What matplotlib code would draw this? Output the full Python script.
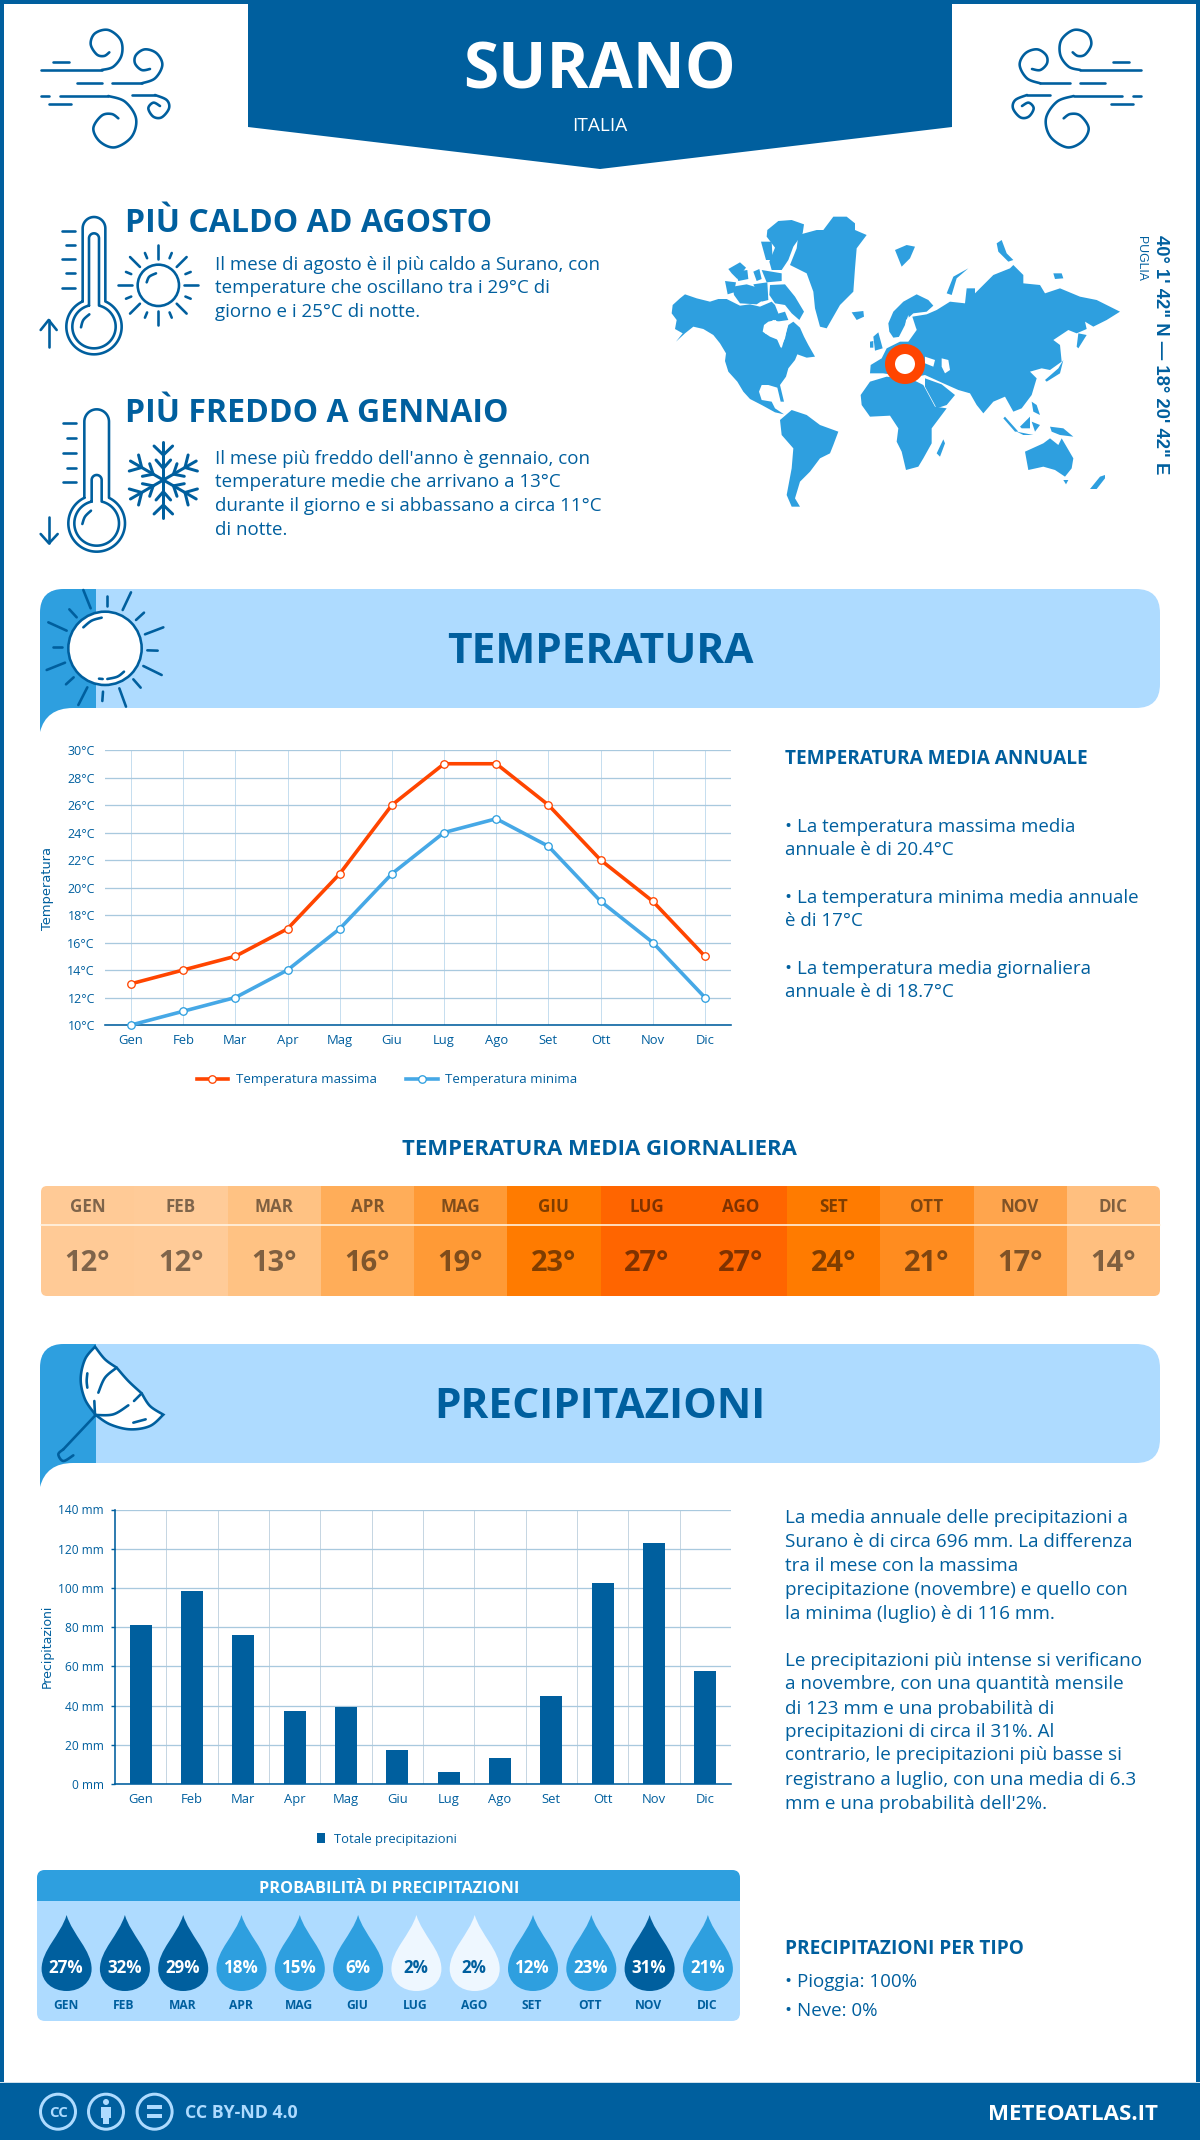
import numpy as np
import matplotlib
matplotlib.use('Agg')
import matplotlib.pyplot as plt
from matplotlib.patches import Circle, FancyBboxPatch, PathPatch, Polygon, Rectangle
from matplotlib.path import Path

plt.rcParams['font.family'] = ['Open Sans', 'DejaVu Sans']

W, H = 1200, 2140
BLUE = '#005f9e'
MID = '#2e9fdf'
LIGHT = '#aedbff'
ORANGE = '#ff4500'

mesi = ['Gen', 'Feb', 'Mar', 'Apr', 'Mag', 'Giu', 'Lug', 'Ago', 'Set', 'Ott', 'Nov', 'Dic']
mesi_up = ['GEN', 'FEB', 'MAR', 'APR', 'MAG', 'GIU', 'LUG', 'AGO', 'SET', 'OTT', 'NOV', 'DIC']
temp_max = [13, 14, 15, 17, 21, 26, 29, 29, 26, 22, 19, 15]
temp_min = [10, 11, 12, 14, 17, 21, 24, 25, 23, 19, 16, 12]
temp_media = [12, 12, 13, 16, 19, 23, 27, 27, 24, 21, 17, 14]
temp_colori = ['#ffca96', '#ffcb98', '#ffc283', '#ffad59', '#ff9a36', '#ff7b00',
               '#ff6500', '#ff6500', '#ff7b00', '#ff8c1f', '#ffa54d', '#ffbf7f']
pioggia = [81, 98.4, 76, 37.4, 39.3, 17.4, 6.3, 13.3, 44.9, 102.5, 123, 57.7]
probabilita = [27, 32, 29, 18, 15, 6, 2, 2, 12, 23, 31, 21]

testo_caldo = ['Il mese di agosto è il più caldo a Surano, con',
               'temperature che oscillano tra i 29°C di',
               'giorno e i 25°C di notte.']
testo_freddo = ["Il mese più freddo dell'anno è gennaio, con",
                'temperature medie che arrivano a 13°C',
                'durante il giorno e si abbassano a circa 11°C',
                'di notte.']
testo_temp = ['• La temperatura massima media', 'annuale è di 20.4°C',
              '• La temperatura minima media annuale', 'è di 17°C',
              '• La temperatura media giornaliera', 'annuale è di 18.7°C']
testo_prec = ['La media annuale delle precipitazioni a',
              'Surano è di circa 696 mm. La differenza',
              'tra il mese con la massima',
              'precipitazione (novembre) e quello con',
              'la minima (luglio) è di 116 mm.',
              'Le precipitazioni più intense si verificano',
              'a novembre, con una quantità mensile',
              'di 123 mm e una probabilità di',
              'precipitazioni di circa il 31%. Al',
              'contrario, le precipitazioni più basse si',
              'registrano a luglio, con una media di 6.3',
              "mm e una probabilità dell'2%."]

# outlines of the map, in pixels of a 3x crop
mappa = [
    [(38,300),(60,280),(75,268),(110,280),(150,290),(175,282),(200,282),(240,302),(270,298),(300,305),(335,290),(345,300),(355,325),(348,345),(325,350),(312,360),(308,380),(330,395),(355,405),(365,430),(372,405),(385,360),(400,350),(420,368),(432,395),(445,420),(465,455),(440,458),(412,448),(405,465),(385,490),(378,515),(360,540),(372,590),(362,590),(352,548),(325,540),(305,540),(297,560),(305,585),(335,590),(345,610),(372,628),(345,622),(305,600),(270,582),(250,560),(232,530),(205,500),(195,468),(198,445),(180,415),(160,390),(130,372),(100,365),(75,385),(48,410),(68,385),(45,372),(50,345),(35,325)],
    [(360,645),(395,615),(440,630),(480,660),(535,680),(520,720),(510,745),(480,760),(450,800),(420,830),(405,880),(420,905),(395,905),(380,870),(395,790),(400,730),(365,690)],
    [(415,90),(470,75),(490,75),(520,35),(560,35),(585,55),(585,75),(620,90),(590,130),(585,190),(580,260),(540,300),(500,370),(480,365),(465,310),(460,260),(440,205),(390,180),(410,130)],
    [(322,75),(355,48),(395,45),(432,58),(428,85),(400,125),(385,165),(365,195),(335,195),(328,170),(345,128),(320,95)],
    [(330,240),(375,238),(405,275),(432,320),(418,345),(395,325),(375,300),(345,295),(328,270)],
    [(195,228),(228,232),(222,262),(203,268)],
    [(205,192),(240,172),(258,188),(232,222),(215,205)],
    [(225,200),(262,195),(265,222),(235,228)],
    [(218,245),(260,238),(300,250),(310,285),(290,298),(240,295),(222,270)],
    [(280,200),(298,192),(305,222),(290,228)],
    [(305,195),(365,205),(365,228),(320,232)],
    [(280,238),(322,232),(325,285),(305,290)],
    [(303,110),(335,110),(338,165),(318,165)],
    [(340,330),(375,320),(385,345),(350,350)],
    [(575,322),(610,318),(612,335),(590,345)],
    [(705,135),(740,120),(765,125),(750,160),(725,185)],
    [(860,265),(880,215),(925,190),(890,220),(875,270)],
    [(1010,115),(1025,105),(1040,145),(1060,165),(1045,170),(1015,140)],
    [(1180,205),(1205,205),(1210,220),(1185,222)],
    [(685,355),(700,320),(730,290),(770,268),(805,285),(820,302),(800,320),(760,325),(738,345),(735,370),(722,395),(700,398),(688,380)],
    [(770,375),(757,335),(800,328),(830,315),(870,290),(915,295),(920,250),(945,250),(945,265),(970,240),(1000,210),(1050,190),(1060,180),(1090,210),(1090,235),(1140,240),(1155,265),(1200,250),(1260,275),(1310,285),(1380,320),(1340,345),(1300,365),(1275,350),(1280,372),(1250,385),(1225,375),(1180,405),(1200,420),(1205,470),(1170,495),(1145,490),(1110,500),(1130,520),(1115,570),(1085,610),(1060,620),(1035,575),(1000,590),(970,625),(950,600),(930,565),(895,555),(850,535),(795,510),(770,515),(740,505),(700,510),(670,505),(630,505),(632,480),(665,460),(680,430),(720,410),(745,410)],
    [(795,520),(845,538),(885,570),(860,600),(830,610),(795,545)],
    [(602,570),(630,530),(680,515),(760,525),(790,540),(825,605),(860,610),(815,670),(815,715),(790,760),(775,785),(738,795),(725,740),(710,710),(715,670),(690,632),(630,635),(605,600)],
    [(830,745),(850,703),(855,715),(840,755)],
    [(640,395),(655,382),(668,430),(645,437)],
    [(630,410),(640,408),(640,428),(630,428)],
    [(1155,525),(1195,490),(1210,465),(1200,505),(1160,530)],
    [(1250,425),(1255,385),(1280,390),(1255,430)],
    [(1080,665),(1110,635),(1110,670),(1085,670)],
    [(1035,635),(1075,680),(1065,680),(1030,640)],
    [(1070,680),(1120,690),(1090,690)],
    [(1115,590),(1130,600),(1140,630),(1120,620)],
    [(1170,665),(1210,670),(1240,695),(1200,690),(1175,680)],
    [(1115,650),(1140,660),(1125,680)],
    [(1095,740),(1150,715),(1170,700),(1195,720),(1205,700),(1240,760),(1235,790),(1215,815),(1185,795),(1150,785),(1105,795)],
    [(1210,825),(1225,825),(1218,838)],
    [(1290,852),(1320,815),(1335,810),(1335,820),(1310,852)],
]
mappa_buchi = [
    [(312,365),(340,345),(370,355),(385,350),(375,400),(362,428),(350,400),(315,385)],
    [(845,460),(865,465),(870,495),(855,505),(845,485)],
    [(795,455),(825,465),(820,485),(795,475)],
    [(735,395),(770,372),(752,365),(745,330),(735,360),(712,405)],
]


def px(v):
    return v * 0.72


fig = plt.figure(figsize=(W / 100, H / 100), dpi=100, facecolor='white')
bg = fig.add_axes([0, 0, 1, 1])
bg.set_xlim(0, W)
bg.set_ylim(H, 0)
bg.axis('off')


def T(x, y, s, size, color=BLUE, weight='normal', ha='left', **kw):
    # y is the middle of the capitals
    return bg.text(x, y + 0.357 * size, s, fontsize=px(size), color=color, weight=weight,
                   ha=ha, va='baseline', zorder=10, **kw)


def L(xs, ys, lw=2.6, color=BLUE, z=6):
    bg.plot(xs, ys, color=color, lw=px(lw), solid_capstyle='round', solid_joinstyle='round', zorder=z)


def smooth(pts, n=12):
    # catmull-rom through the points
    p = np.array(pts, dtype=float)
    p = np.vstack([p[0], p, p[-1]])
    out = []
    for i in range(1, len(p) - 2):
        for t in np.linspace(0, 1, n, endpoint=False):
            a = 2 * p[i] + (p[i + 1] - p[i - 1]) * t
            b = (2 * p[i - 1] - 5 * p[i] + 4 * p[i + 1] - p[i + 2]) * t ** 2
            c = (-p[i - 1] + 3 * p[i] - 3 * p[i + 1] + p[i + 2]) * t ** 3
            out.append(0.5 * (a + b + c))
    out.append(p[-2])
    return np.array(out)


def crop(pts, ox, oy, mirror=None):
    p = np.array(pts, dtype=float) / 3 + [ox, oy]
    if mirror is not None:
        p[:, 0] = mirror - p[:, 0]
    return p


def draw_crop(pts, ox, oy, curved=False, mirror=None, lw=2.6):
    p = crop(pts, ox, oy, mirror)
    if curved:
        p = smooth(p)
    L(p[:, 0], p[:, 1], lw=lw)


def wind(mirror=None):
    ox, oy = 30, 20
    for seg in [[(70,125),(118,125)], [(32,150),(215,150)], [(140,190),(215,190)], [(245,190),(335,190)],
                [(32,228),(58,228)], [(90,228),(235,228)], [(57,252),(122,252)], [(305,225),(375,225)]]:
        draw_crop(seg, ox, oy, mirror=mirror)
    for seg in [[(215,150),(250,140),(275,105),(272,60),(235,30),(195,40),(182,72),(200,103),(222,108),(238,97)],
                [(335,190),(375,175),(397,135),(380,100),(345,88),(318,105),(315,130),(335,150),(360,147)],
                [(235,228),(285,245),(318,295),(305,350),(255,382),(210,365),(190,325),(215,287),(245,282),(265,295)],
                [(375,225),(410,240),(417,265),(395,292),(370,290),(355,265),(370,248),(390,258)]]:
        draw_crop(seg, ox, oy, curved=True, mirror=mirror)


def thermo(ox, oy, cx, tw, ttop, cy, r, itw, itop, ticks, tx, arrow, hl):
    # tube + bulb, sizes in crop pixels
    g = np.degrees(np.arcsin(tw / r))
    t = np.radians(np.linspace(-90 + g, 270 - g, 90))
    a = np.radians(np.linspace(180, 360, 30))
    xs = np.r_[cx - tw, cx + tw * np.cos(a), cx + r * np.cos(t), cx - tw]
    ys = np.r_[cy - r * np.cos(np.radians(g)), ttop + tw * np.sin(a) + tw, cy + r * np.sin(t), cy - r * np.cos(np.radians(g))]
    draw_crop(np.c_[xs, ys], ox, oy)
    r2 = r - 18
    g = np.degrees(np.arcsin(itw / r2))
    t = np.radians(np.linspace(-90 + g, 270 - g, 90))
    xs = np.r_[cx - itw, cx + itw * np.cos(a), cx + r2 * np.cos(t), cx - itw]
    ys = np.r_[cy - r2 * np.cos(np.radians(g)), itop + itw * np.sin(a) + itw, cy + r2 * np.sin(t), cy - r2 * np.cos(np.radians(g))]
    draw_crop(np.c_[xs, ys], ox, oy)
    draw_crop(hl, ox, oy, curved=True)
    for i, y in enumerate(ticks):
        draw_crop([(tx + (10 if i % 2 else 0), y), (tx + 38, y)], ox, oy)
    for seg in arrow:
        draw_crop(seg, ox, oy)


def banner(y0, yb):
    bg.add_patch(FancyBboxPatch((40 + 24, y0 + 24), 1120 - 48, yb - y0 - 48, boxstyle='round,pad=24,rounding_size=24',
                                fc=LIGHT, ec='none', zorder=2))
    verts = [(96, y0), (64, y0), (40, y0), (40, y0 + 24), (40, yb + 24), (46, yb), (73, yb), (96, yb), (96, y0)]
    codes = [Path.MOVETO, Path.LINETO, Path.CURVE3, Path.CURVE3, Path.LINETO, Path.CURVE3, Path.CURVE3, Path.LINETO, Path.CLOSEPOLY]
    bg.add_patch(PathPatch(Path(verts, codes), fc=MID, ec='none', zorder=3))


# frame and header
bg.add_patch(Rectangle((0, 0), 4, H, fc=BLUE, ec='none', zorder=1))
bg.add_patch(Rectangle((W - 4, 0), 4, H, fc=BLUE, ec='none', zorder=1))
bg.add_patch(Rectangle((0, 0), W, 4, fc=BLUE, ec='none', zorder=1))
bg.add_patch(Polygon([(248, 0), (952, 0), (952, 127), (600, 169), (248, 127)], fc=BLUE, ec='none', zorder=2))
T(600, 66, 'SURANO', 64, color='white', weight='bold', ha='center')
T(600, 124, 'ITALIA', 19, color='white', ha='center')
wind()
wind(mirror=1182)

# hottest / coldest
T(125, 220.5, 'PIÙ CALDO AD AGOSTO', 32, weight='bold')
for i, s in enumerate(testo_caldo):
    T(215, [263, 286, 310][i], s, 18.8)
T(125, 410.5, 'PIÙ FREDDO A GENNAIO', 32, weight='bold')
for i, s in enumerate(testo_freddo):
    T(215, [457, 480, 504, 528][i], s, 18.8)

thermo(30, 205, 192, 34, 36, 365, 83, 15, 85, [77, 120, 163, 205, 248], 97,
       [[(56,425),(56,345)], [(32,375),(56,345),(80,375)]], [(153,367),(160,345),(178,328)])
thermo(30, 400, 200, 37, 28, 370, 85, 15, 225, [70, 115, 159, 203, 247], 100,
       [[(57,350),(57,430)], [(32,402),(57,430),(83,402)]], [(157,372),(165,350),(183,332)])

# small sun
sc = crop([(385, 241)], 30, 205)[0]
bg.add_patch(Circle(sc, 62 / 3, fc='none', ec=BLUE, lw=px(2.6), zorder=6))
for k in range(8):
    a = np.radians(45 * k)
    L(sc[0] + np.array([78, 120]) / 3 * np.cos(a), sc[1] + np.array([78, 120]) / 3 * np.sin(a))
    a = np.radians(45 * k + 22.5)
    L(sc[0] + np.array([88, 105]) / 3 * np.cos(a), sc[1] + np.array([88, 105]) / 3 * np.sin(a))
draw_crop([(350,232),(358,215),(378,205)], 30, 205, curved=True)

# snowflake
sc = crop([(400, 240)], 30, 400)[0]
for k in range(6):
    a = np.radians(60 * k + 90)
    u = np.array([np.cos(a), np.sin(a)])
    v = np.array([-u[1], u[0]])
    L([sc[0], sc[0] + u[0] * 38], [sc[1], sc[1] + u[1] * 38], lw=3)
    for tip, end, s in [(25, 34, 9.3), (11.7, 20, 7.3)]:
        c = sc + u * tip
        for sg in (-1, 1):
            e = sc + u * end + v * sg * s
            L([c[0], e[0]], [c[1], e[1]], lw=3)

# map
for poly in mappa:
    bg.add_patch(Polygon(crop(poly, 660, 205), fc=MID, ec='none', zorder=3))
for poly in mappa_buchi:
    bg.add_patch(Polygon(crop(poly, 660, 205), fc='white', ec='none', zorder=4))
bg.add_patch(Circle((905, 364), 15, fc='white', ec=ORANGE, lw=px(10), zorder=5))
bg.text(1161, 355, '40° 1\' 42" N — 18° 20\' 42" E', fontsize=px(18.5), weight='bold', color=BLUE, rotation=270,
        ha='center', va='center', family=['Liberation Sans', 'DejaVu Sans'], zorder=10)
bg.text(1141, 258, 'PUGLIA', fontsize=px(12.2), color=BLUE, rotation=270, ha='center', va='center',
        family=['Liberation Sans', 'DejaVu Sans'], zorder=10)

# temperature section
banner(589, 708)
T(600, 648, 'TEMPERATURA', 42.4, weight='bold', ha='center')
for seg in [[(160,30),(182,85)], [(230,47),(230,78)], [(303,37),(278,90)], [(342,98),(318,120)], [(400,142),(345,163)],
            [(383,212),(352,211)], [(395,285),(340,258)], [(332,323),(310,298)], [(288,380),(268,325)], [(217,363),(219,335)],
            [(145,375),(172,322)], [(108,313),(131,292)], [(50,270),(105,248)], [(68,200),(97,200)], [(55,127),(110,152)],
            [(118,88),(140,112)], [(207,296),(218,297)]]:
    draw_crop(seg, 30, 580)
bg.add_patch(Circle(crop([(225, 205)], 30, 580)[0], 110 / 3, fc='white', ec=BLUE, lw=px(2.6), zorder=5))
draw_crop([(160,142),(185,122),(215,113)], 30, 580, curved=True)
draw_crop([(232,297),(262,290),(282,275)], 30, 580, curved=True)

ax1 = fig.add_axes([105 / W, 1 - 1025 / H, 626 / W, 275 / H])
ax1.plot(mesi, temp_max, color=ORANGE, lw=px(3.6), marker='o', ms=px(7.5), mfc='white', mec=ORANGE, mew=px(1.3), zorder=4, clip_on=False, label='Temperatura massima')
ax1.plot(mesi, temp_min, color='#46a8e6', lw=px(3.6), marker='o', ms=px(7.5), mfc='white', mec='#2e9fdf', mew=px(1.3), zorder=3, clip_on=False, label='Temperatura minima')
ax1.set_xlim(-0.5, 11.5)
ax1.set_ylim(10, 30)
ax1.set_yticks(range(10, 31, 2))
ax1.set_yticklabels([f'{v}°C' for v in range(10, 31, 2)])
ax1.grid(axis='y', color='#a9c9de', lw=px(1.3))
ax1.grid(axis='x', color='#c6deef', lw=px(1))
ax1.set_axisbelow(True)
for s in ['top', 'left', 'right']:
    ax1.spines[s].set_visible(False)
ax1.spines['bottom'].set_color(BLUE)
ax1.spines['bottom'].set_linewidth(px(1.6))
ax1.tick_params(axis='both', length=0, colors=BLUE, labelsize=px(13))
ax1.tick_params(axis='y', pad=px(10), labelsize=px(12.5))
ax1.tick_params(axis='x', pad=px(9))
ax1.patch.set_alpha(0)
bg.text(47, 889, 'Temperatura', fontsize=px(13), color=BLUE, rotation=90, ha='center', va='center', family='DejaVu Sans', zorder=10)
ax1.legend(loc='center', bbox_to_anchor=(387 / W, 1 - 1080 / H), bbox_transform=fig.transFigure, ncol=2, frameon=False,
           fontsize=px(13.3), labelcolor=BLUE, handlelength=2.4, columnspacing=2.2, handletextpad=0.55)

T(785, 757, 'TEMPERATURA MEDIA ANNUALE', 19, weight='bold')
for i, s in enumerate(testo_temp):
    T(785, [825, 848, 896, 919, 967, 990.5][i], s, 18.8)

# daily mean strip
T(599, 1147, 'TEMPERATURA MEDIA GIORNALIERA', 22.2, weight='bold', ha='center')
strip = FancyBboxPatch((41 + 6, 1186 + 6), 1119 - 12, 110 - 12, boxstyle='round,pad=6,rounding_size=6', fc='none', ec='none', transform=bg.transData)
bg.add_patch(strip)
cw = 1119 / 12
for i, t in enumerate(temp_media):
    r = Rectangle((41 + i * cw, 1186), cw + 0.5, 110, fc=temp_colori[i], ec='none', zorder=3)
    bg.add_patch(r)
    r.set_clip_path(strip)
    T(41 + (i + 0.5) * cw, 1206, mesi_up[i], 17, color='black', weight='bold', ha='center', alpha=0.5)
    T(41 + (i + 0.5) * cw, 1261, f'{t}°', 29, color='black', weight='bold', ha='center', alpha=0.5)
bg.plot([41, 1160], [1225, 1225], color='#fff5e6', lw=px(1.6), zorder=4)

# rain section
banner(1344, 1463)
T(600, 1403, 'PRECIPITAZIONI', 42.4, weight='bold', ha='center')
p = smooth([(197,237),(165,190),(152,130),(165,70),(195,32)])
top = np.vstack([smooth([(195,32),(225,70),(260,95)]), smooth([(260,95),(295,135),(335,172)]), smooth([(335,172),(360,210),(400,236)])])
bot = smooth([(400,236),(360,270),(300,280),(240,265),(197,237)])
outl = crop(np.vstack([p, top, bot]), 30, 1336)
bg.add_patch(Polygon(outl, fc='white', ec=BLUE, lw=px(2.6), zorder=5))
for seg in [[(260,95),(225,125),(205,170)], [(197,237),(250,235),(295,208)], [(172,112),(170,135),(172,155)]]:
    draw_crop(seg, 30, 1336, curved=True)
for seg in [[(193,195),(195,237)], [(312,195),(335,172)], [(310,260),(347,250)], [(197,237),(100,340)]]:
    draw_crop(seg, 30, 1336)
draw_crop([(100,340),(85,355),(100,375),(130,358)], 30, 1336, curved=True)

ax2 = fig.add_axes([115 / W, 1 - 1784 / H, 616 / W, 274.5 / H])
ax2.bar(mesi, pioggia, width=0.43, color=BLUE, zorder=3, label='Totale precipitazioni')
ax2.set_xlim(-0.5, 11.5)
ax2.set_ylim(0, 140)
ax2.set_yticks(range(0, 141, 20))
ax2.set_yticklabels([f'{v} mm' for v in range(0, 141, 20)])
ax2.set_xticks(np.arange(0.5, 11), minor=True)
ax2.grid(axis='y', color='#a9c9de', lw=px(1.3))
ax2.grid(axis='x', which='minor', color='#c6d6e2', lw=px(1))
ax2.set_axisbelow(True)
for s in ['top', 'right']:
    ax2.spines[s].set_visible(False)
for s in ['left', 'bottom']:
    ax2.spines[s].set_color(BLUE)
    ax2.spines[s].set_linewidth(px(1.6))
ax2.tick_params(axis='x', which='both', length=0, colors=BLUE, labelsize=px(13), pad=px(9))
ax2.tick_params(axis='y', length=px(4), width=px(1.4), colors=BLUE, labelsize=px(12), pad=px(7))
ax2.patch.set_alpha(0)
bg.text(47, 1646, 'Precipitazioni', fontsize=px(12.5), color=BLUE, rotation=90, ha='center', va='center', family='DejaVu Sans', zorder=10)
ax2.legend(loc='center', bbox_to_anchor=(387 / W, 1 - 1839 / H), bbox_transform=fig.transFigure, frameon=False, fontsize=px(13),
           labelcolor=BLUE, handlelength=0.6, handleheight=0.9, handletextpad=0.7)

for i, s in enumerate(testo_prec):
    T(785, [1516, 1540, 1564, 1588, 1612, 1659, 1682.6, 1707, 1730, 1753.6, 1778, 1802][i], s, 18.9)

# probability box
box = FancyBboxPatch((37 + 8, 1870 + 8), 703 - 16, 151 - 16, boxstyle='round,pad=8,rounding_size=8', fc=LIGHT, ec='none', zorder=2)
bg.add_patch(box)
hd = Rectangle((37, 1870), 703, 31, fc=MID, ec='none', zorder=3)
bg.add_patch(hd)
hd.set_clip_path(box)
T(389, 1887, 'PROBABILITÀ DI PRECIPITAZIONI', 16.3, color='white', weight='bold', ha='center')
for i, v in enumerate(probabilita):
    cx = 66.6 + 58.3 * i
    col = BLUE if v >= 27 else (MID if v >= 5 else '#eef7ff')
    verts = [(cx, 1915), (cx + 6, 1935), (cx + 25, 1950), (cx + 25, 1969), (cx + 25, 1982), (cx + 14, 1991), (cx, 1991),
             (cx - 14, 1991), (cx - 25, 1982), (cx - 25, 1969), (cx - 25, 1950), (cx - 6, 1935), (cx, 1915)]
    codes = [Path.MOVETO] + [Path.CURVE4] * 12
    bg.add_patch(PathPatch(Path(verts, codes), fc=col, ec='none', zorder=4))
    T(cx - 0.5, 1966.5, f'{v}%', 17, color='white' if v >= 5 else BLUE, weight='bold', ha='center')
    T(cx - 1, 2004.5, mesi_up[i], 12, weight='bold', ha='center')

T(785, 1947, 'PRECIPITAZIONI PER TIPO', 19, weight='bold')
T(785, 1980, '• Pioggia: 100%', 18.8)
T(785, 2009, '• Neve: 0%', 18.8)

# footer
bg.add_patch(Rectangle((0, 2082), W, 2, fc='#cfe0ec', ec='none', zorder=2))
bg.add_patch(Rectangle((0, 2083), W, H - 2083, fc=BLUE, ec='none', zorder=3))
for cx in (58, 106, 154.6):
    bg.add_patch(Circle((cx, 2111.7), 17.5, fc='none', ec=LIGHT, lw=px(3), zorder=5))
T(58, 2112, 'CC', 15, color=LIGHT, weight='bold', ha='center')
bg.add_patch(Circle((106, 2102), 3, fc=LIGHT, ec='none', zorder=5))
bg.add_patch(Rectangle((101, 2107), 10, 11, fc=LIGHT, ec='none', zorder=5))
bg.add_patch(Rectangle((103, 2116), 6, 8, fc=LIGHT, ec='none', zorder=5))
bg.add_patch(Rectangle((147, 2105), 15, 4, fc=LIGHT, ec='none', zorder=5))
bg.add_patch(Rectangle((147, 2114), 15, 4, fc=LIGHT, ec='none', zorder=5))
T(185, 2112, 'CC BY-ND 4.0', 17.7, color=LIGHT, weight='bold')
T(1158, 2112, 'METEOATLAS.IT', 22.3, color='white', weight='bold', ha='right')

fig.savefig('out.png', dpi=100)
